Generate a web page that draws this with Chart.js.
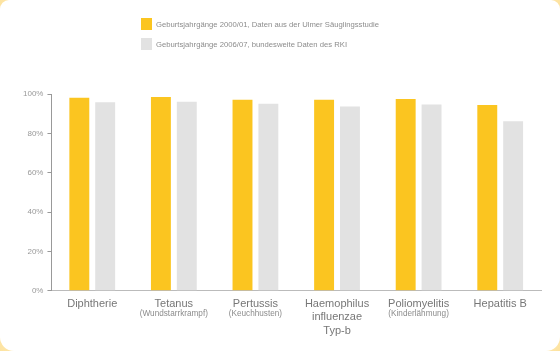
<!DOCTYPE html>
<html>
<head>
<meta charset="utf-8">
<script src="https://cdn.jsdelivr.net/npm/chart.js@4"></script>
<style>
  html, body { margin: 0; padding: 0; }
  body {
    width: 560px; height: 351px; overflow: hidden;
    background: radial-gradient(circle at 50% 50%, #fff 70%, #fde3a0 100%);
  }
  #card {
    width: 560px; height: 351px; background: #fff;
    border-radius: 9px 9px 14px 14px;
  }
  canvas { display: block; }
</style>
</head>
<body>
<div id="card"><canvas id="chart" width="560" height="351"></canvas></div>
<script>
'use strict'

const categories = ['Diphtherie', 'Tetanus', 'Pertussis', ['Haemophilus', 'influenzae', 'Typ-b'], 'Poliomyelitis', 'Hepatitis B']
const subtitles = ['', '(Wundstarrkrampf)', '(Keuchhusten)', '', '(Kinderlähmung)', '']
const ulmValues = [98.1, 98.5, 97.1, 97.1, 97.4, 94.4]
const rkiValues = [95.8, 96.1, 95.1, 93.7, 94.7, 86.2]
const seriesLabels = [
  'Geburtsjahrgänge 2000/01, Daten aus der Ulmer Säuglingsstudie',
  'Geburtsjahrgänge 2006/07, bundesweite Daten des RKI'
]
const yTicks = [0, 20, 40, 60, 80, 100]

const FONT = 'Arial, "Liberation Sans", sans-serif'
const yellow = '#fbc520'
const grey = '#e2e2e2'

// legend stacked on two rows, drawn by hand
const stackedLegend = {
  id: 'stackedLegend',
  afterDraw (chart) {
    const ctx = chart.ctx
    ctx.save()
    ctx.font = '7.7px ' + FONT
    ctx.textBaseline = 'middle'
    chart.data.datasets.forEach((ds, i) => {
      const y = 18 + i * 20
      ctx.fillStyle = ds.backgroundColor
      ctx.fillRect(141, y, 11, 12)
      ctx.fillStyle = '#8c8c8c'
      ctx.fillText(ds.label, 156, y + 6.5)
    })
    ctx.restore()
  }
}

// small second line under some category names
const subLabels = {
  id: 'subLabels',
  afterDraw (chart) {
    const ctx = chart.ctx
    const xScale = chart.scales.x
    ctx.save()
    ctx.font = '8.2px ' + FONT
    ctx.fillStyle = '#8c8c8c'
    ctx.textAlign = 'center'
    ctx.textBaseline = 'middle'
    subtitles.forEach((txt, i) => {
      if (txt) ctx.fillText(txt, xScale.getPixelForValue(i), xScale.top + 23)
    })
    ctx.restore()
  }
}

const ctx = document.getElementById('chart').getContext('2d')
new Chart(ctx, {
  type: 'bar',
  data: {
    labels: categories,
    datasets: [
      { label: seriesLabels[0], data: ulmValues, backgroundColor: yellow },
      { label: seriesLabels[1], data: rkiValues, backgroundColor: grey }
    ]
  },
  options: {
    responsive: false,
    animation: false,
    categoryPercentage: 0.634,
    barPercentage: 0.77,
    layout: { padding: { top: 94, left: 19, right: 19, bottom: 7 } },
    plugins: {
      legend: { display: false },
      tooltip: { enabled: false }
    },
    scales: {
      x: {
        grid: { display: false, drawTicks: false },
        border: { display: true, color: '#bbbbbb' },
        ticks: {
          padding: 6,
          color: '#777777',
          maxRotation: 0,
          autoSkip: false,
          font: { family: FONT, size: 11, lineHeight: 1.25 }
        }
      },
      y: {
        min: 0,
        max: 100,
        afterBuildTicks (scale) {
          scale.ticks = yTicks.map(v => ({ value: v }))
        },
        grid: { drawOnChartArea: false, drawTicks: true, tickLength: 4, color: '#999999' },
        border: { display: true, color: '#999999' },
        ticks: {
          padding: 4,
          color: '#999999',
          font: { family: FONT, size: 8 },
          callback: v => v + '%'
        }
      }
    }
  },
  plugins: [stackedLegend, subLabels]
})
</script>
</body>
</html>
